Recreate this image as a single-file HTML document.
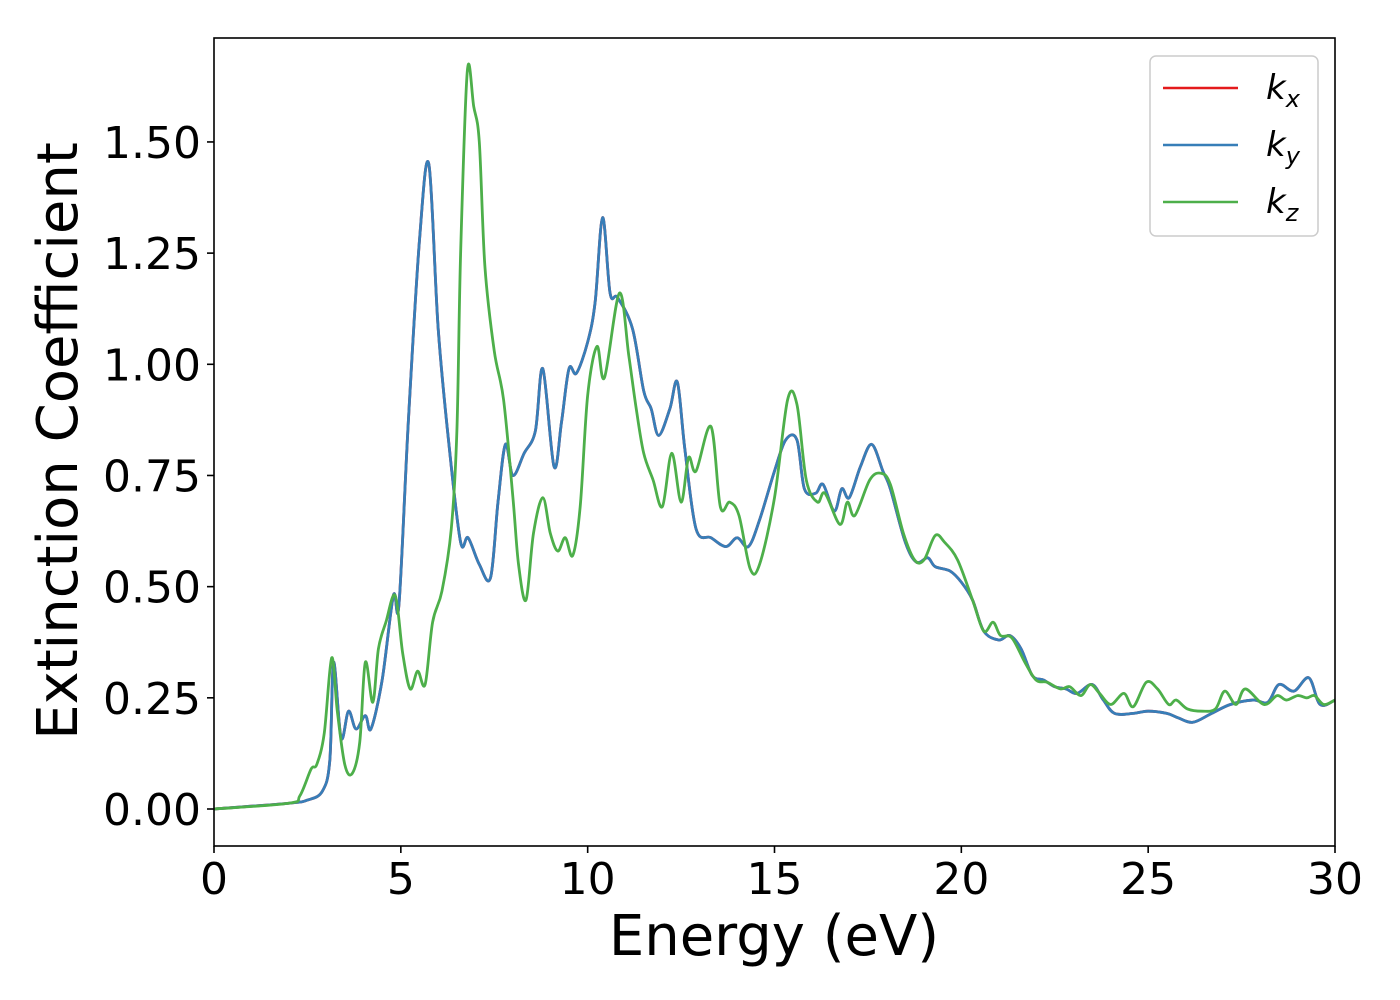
<!DOCTYPE html>
<html><head><meta charset="utf-8"><style>
body{margin:0;background:#fff}
svg{display:block;font-family:"DejaVu Sans","Liberation Sans",sans-serif}
</style></head><body>
<svg id="chart" width="1400" height="1000" viewBox="0 0 1400 1000" xmlns="http://www.w3.org/2000/svg">
<rect width="1400" height="1000" fill="#fff"/>
<g id="ticks"></g>
<g id="series" clip-path="url(#clip)"></g>
<defs><clipPath id="clip"><rect x="214" y="38" width="1121" height="808"/></clipPath></defs>
<rect x="214" y="38" width="1121" height="808" fill="none" stroke="#000" stroke-width="1.6"/>
<text x="774" y="955" font-size="56" text-anchor="middle">Energy (eV)</text>
<text transform="translate(77,441) rotate(-90)" font-size="56" text-anchor="middle">Extinction Coefficient</text>
<g>
<rect x="1150" y="56" width="168" height="180" rx="6" fill="#fff" stroke="#ccc" stroke-width="1.5"/>
<g><line x1="1163" y1="88" x2="1238" y2="88" stroke="#e41a1c" stroke-width="2.5"/><text x="1266" y="99" font-size="34" font-style="italic">k<tspan font-size="24" dy="8">x</tspan></text></g>
<g><line x1="1163" y1="145" x2="1238" y2="145" stroke="#377eb8" stroke-width="2.5"/><text x="1266" y="156" font-size="34" font-style="italic">k<tspan font-size="24" dy="8">y</tspan></text></g>
<g><line x1="1163" y1="202" x2="1238" y2="202" stroke="#4daf4a" stroke-width="2.5"/><text x="1266" y="213" font-size="34" font-style="italic">k<tspan font-size="24" dy="8">z</tspan></text></g>
</g>
</svg>
<script>
const xTicks=[0,5,10,15,20,25,30];
const yTicks=[0,0.25,0.5,0.75,1.0,1.25,1.5];
const yTickLabels=["0.00","0.25","0.50","0.75","1.00","1.25","1.50"];
const energyXY=[0,2.0,2.5,2.9,3.1,3.2,3.4,3.6,3.8,4.05,4.2,4.5,4.8,4.95,5.2,5.5,5.75,6.0,6.3,6.6,6.8,7.1,7.4,7.6,7.8,8.0,8.3,8.6,8.8,9.1,9.3,9.5,9.7,10.0,10.2,10.4,10.6,10.8,11.2,11.5,11.7,11.9,12.2,12.4,12.6,12.9,13.3,13.7,14.0,14.3,14.6,15.0,15.3,15.6,15.8,16.1,16.3,16.6,16.8,17.0,17.3,17.6,17.9,18.1,18.5,18.8,19.1,19.3,19.7,20.0,20.3,20.6,21.0,21.3,21.6,21.9,22.2,22.5,22.8,23.1,23.5,23.8,24.1,24.6,25.0,25.5,25.8,26.2,26.7,27.2,27.8,28.2,28.5,28.9,29.3,29.6,30];
const kxy=[0,0.013,0.02,0.04,0.11,0.33,0.16,0.22,0.18,0.21,0.18,0.29,0.48,0.46,0.87,1.28,1.45,1.08,0.81,0.60,0.61,0.55,0.52,0.69,0.82,0.75,0.80,0.85,0.99,0.77,0.87,0.99,0.98,1.05,1.14,1.33,1.16,1.15,1.08,0.94,0.90,0.84,0.90,0.96,0.81,0.63,0.61,0.59,0.61,0.59,0.65,0.76,0.83,0.83,0.72,0.71,0.73,0.67,0.72,0.70,0.77,0.82,0.76,0.72,0.60,0.555,0.565,0.545,0.535,0.51,0.47,0.40,0.38,0.39,0.36,0.30,0.29,0.275,0.27,0.26,0.28,0.245,0.215,0.215,0.22,0.215,0.205,0.195,0.215,0.235,0.245,0.24,0.28,0.265,0.295,0.235,0.245];
const energyZ=[0,2.0,2.3,2.6,2.75,2.95,3.15,3.3,3.5,3.7,3.9,4.05,4.25,4.4,4.6,4.85,5.05,5.25,5.45,5.65,5.85,6.1,6.35,6.5,6.6,6.78,6.95,7.1,7.25,7.5,7.75,8.0,8.15,8.35,8.55,8.8,9.0,9.2,9.4,9.6,9.8,10.0,10.25,10.45,10.85,11.1,11.3,11.5,11.75,12.0,12.25,12.5,12.7,12.9,13.3,13.55,13.8,14.05,14.35,14.6,15.0,15.35,15.6,15.85,16.15,16.35,16.75,16.95,17.15,17.55,17.85,18.1,18.45,18.75,19.0,19.3,19.55,19.9,20.3,20.6,20.85,21.05,21.35,21.7,22.0,22.3,22.65,22.9,23.2,23.45,23.7,24.0,24.35,24.6,24.95,25.25,25.55,25.75,26.05,26.45,26.8,27.05,27.35,27.6,28.1,28.45,28.7,29.0,29.25,29.45,29.7,30];
const kz=[0,0.013,0.03,0.09,0.10,0.17,0.34,0.22,0.10,0.08,0.15,0.33,0.24,0.36,0.42,0.48,0.35,0.27,0.31,0.28,0.42,0.49,0.63,0.85,1.25,1.66,1.58,1.50,1.22,1.03,0.92,0.70,0.55,0.47,0.62,0.70,0.62,0.58,0.61,0.57,0.68,0.93,1.04,0.97,1.16,1.02,0.90,0.80,0.74,0.68,0.80,0.69,0.79,0.76,0.86,0.68,0.69,0.66,0.54,0.55,0.70,0.92,0.91,0.74,0.69,0.71,0.64,0.69,0.66,0.74,0.755,0.73,0.62,0.56,0.56,0.615,0.60,0.56,0.47,0.40,0.42,0.39,0.385,0.33,0.29,0.285,0.27,0.275,0.255,0.28,0.26,0.235,0.26,0.23,0.285,0.27,0.235,0.245,0.225,0.22,0.225,0.265,0.235,0.27,0.235,0.255,0.245,0.255,0.25,0.255,0.235,0.245];

const NS="http://www.w3.org/2000/svg";
const X=e=>214+e*(1121/30);
const Y=v=>809-v*444.7;
const tg=document.getElementById('ticks');
xTicks.forEach(t=>{
  const l=document.createElementNS(NS,'line');
  l.setAttribute('x1',X(t));l.setAttribute('x2',X(t));l.setAttribute('y1',846);l.setAttribute('y2',853);l.setAttribute('stroke','#000');l.setAttribute('stroke-width','1.6');
  
  
  tg.appendChild(l);
  const s=document.createElementNS(NS,'text');
  s.setAttribute('x',X(t));s.setAttribute('y',894);s.setAttribute('font-size','44');s.setAttribute('text-anchor','middle');
  s.textContent=t;
  
  
  tg.appendChild(s);
});
yTicks.forEach((t,i)=>{
  const l=document.createElementNS(NS,'line');
  l.setAttribute('x1',207);l.setAttribute('x2',214);l.setAttribute('y1',Y(t));l.setAttribute('y2',Y(t));l.setAttribute('stroke','#000');l.setAttribute('stroke-width','1.6');
  
  
  tg.appendChild(l);
  const s=document.createElementNS(NS,'text');
  s.setAttribute('x',201);s.setAttribute('y',Y(t)+16);s.setAttribute('font-size','44');s.setAttribute('text-anchor','end');
  s.textContent=yTickLabels[i];
  
  
  tg.appendChild(s);
});
function pathFor(xs,ys){
  const p=xs.map((e,i)=>[X(e),Y(ys[i])]);
  let d='M'+p[0][0]+','+p[0][1];
  for(let i=0;i<p.length-1;i++){
    const p0=p[Math.max(0,i-1)],p1=p[i],p2=p[i+1],p3=p[Math.min(p.length-1,i+2)];
    const c1x=p1[0]+(p2[0]-p0[0])/6,c1y=p1[1]+(p2[1]-p0[1])/6;
    const c2x=p2[0]-(p3[0]-p1[0])/6,c2y=p2[1]-(p3[1]-p1[1])/6;
    d+=' C'+c1x+','+c1y+' '+c2x+','+c2y+' '+p2[0]+','+p2[1];
  }
  return d;
}
const sg=document.getElementById('series');
function addLine(xs,ys,color,name){
  const el=document.createElementNS(NS,'path');
  el.setAttribute('d',pathFor(xs,ys));el.setAttribute('fill','none');el.setAttribute('stroke',color);el.setAttribute('stroke-width','2.8');el.setAttribute('stroke-linejoin','round');
  
  
  sg.appendChild(el);
}
addLine(energyXY,kxy,'#e41a1c','series-kx');
addLine(energyXY,kxy,'#377eb8','series-ky');
addLine(energyZ,kz,'#4daf4a','series-kz');
</script>
</body></html>
